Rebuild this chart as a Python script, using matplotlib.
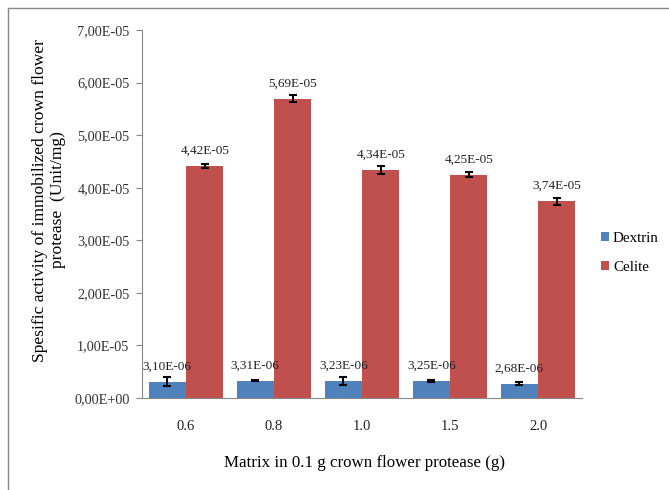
import numpy as np
import matplotlib
matplotlib.use("Agg")
import matplotlib.pyplot as plt
from matplotlib.lines import Line2D
from matplotlib.ticker import FuncFormatter

plt.rcParams['font.family'] = ['Liberation Serif', 'DejaVu Serif']

categories = ["0.6", "0.8", "1.0", "1.5", "2.0"]
dextrin = [3.10e-06, 3.31e-06, 3.23e-06, 3.25e-06, 2.68e-06]
celite = [4.42e-05, 5.69e-05, 4.34e-05, 4.25e-05, 3.74e-05]
dextrin_err = [0.9e-06, 0.15e-06, 0.8e-06, 0.15e-06, 0.3e-06]
celite_err = [0.4e-06, 0.65e-06, 0.7e-06, 0.5e-06, 0.65e-06]
yticks = [0, 1e-05, 2e-05, 3e-05, 4e-05, 5e-05, 6e-05, 7e-05]


def sci_comma(v):
    s = "%.2E" % v
    m, e = s.split("E")
    sign = e[0]
    exp = e[1:].zfill(2)
    return m.replace(".", ",") + "E" + sign + exp


fig = plt.figure(figsize=(6.69, 4.90), dpi=100)
ax = fig.add_axes([142 / 669, 1 - 398 / 490, 440 / 669, 368 / 490])

x = np.arange(len(categories))
w = 0.425
blue = "#4F81BD"
red = "#C0504D"
ekw = dict(ecolor="black", elinewidth=1.5, capsize=3, capthick=1.5)
b1 = ax.bar(x - w / 2, dextrin, w, color=blue, yerr=dextrin_err, error_kw=ekw, label="Dextrin")
b2 = ax.bar(x + w / 2, celite, w, color=red, yerr=celite_err, error_kw=ekw, label="Celite")

for bars, vals in ((b1, dextrin), (b2, celite)):
    for r, v in zip(bars, vals):
        ax.annotate(sci_comma(v), (r.get_x() + r.get_width() / 2, v),
                    xytext=(0, 11), textcoords="offset points",
                    ha="center", va="center", fontsize=9.5, color="#222222")

ax.set_xlim(-0.5, len(categories) - 0.5)
ax.set_ylim(0, 7e-05)
ax.set_yticks(yticks)
ax.yaxis.set_major_formatter(FuncFormatter(lambda v, p: sci_comma(v)))
ax.set_xticks(x)
ax.set_xticklabels(categories)
ax.tick_params(axis="y", length=4, pad=5, color="#888888", labelsize=10.3, labelcolor="#333333")
ax.tick_params(axis="x", length=0, pad=16, labelsize=10.5, labelcolor="#222222")
for s in ["top", "right"]:
    ax.spines[s].set_visible(False)
for s in ["left", "bottom"]:
    ax.spines[s].set_color("#888888")

fig.text(49 / 669, 1 - 200 / 490,
         "Spesific activity of immobilized crown flower\nprotease  (Unit/mg)",
         rotation=90, ha="center", va="center", multialignment="center",
         fontsize=12.6, linespacing=1.1)
fig.text(364 / 669, 1 - 463 / 490, "Matrix in 0.1 g crown flower protease (g)",
         ha="center", va="center", fontsize=12.2)

fig.legend(handles=[b1, b2], labels=["Dextrin", "Celite"], loc="center left",
           bbox_to_anchor=(601 / 669, 1 - 253 / 490), frameon=False,
           borderpad=0, borderaxespad=0, handlelength=0.55, handleheight=0.55,
           handletextpad=0.25, labelspacing=1.05, fontsize=10.8)

fig.add_artist(Line2D([8 / 669, 8 / 669], [0, 1 - 8 / 490], transform=fig.transFigure,
                      color="#888888", lw=1))
fig.add_artist(Line2D([8 / 669, 1], [1 - 8 / 490, 1 - 8 / 490], transform=fig.transFigure,
                      color="#888888", lw=1))

fig.savefig("out.png", dpi=100)
